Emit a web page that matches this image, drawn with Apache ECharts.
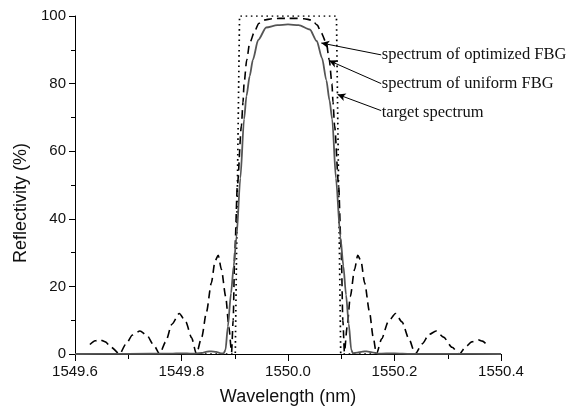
<!DOCTYPE html>
<html>
<head>
<meta charset="utf-8">
<script src="https://cdn.jsdelivr.net/npm/echarts@6/dist/echarts.min.js"></script>
<style>
  html, body { margin: 0; padding: 0; background: #fff; }
  #chart { width: 566px; height: 411px; }
</style>
</head>
<body>
<div id="chart"></div>
<script>
// Target (ideal rectangular) reflection spectrum
var targetWl = [1549.6, 1549.901, 1549.909, 1550.091, 1550.099, 1550.4];
var targetR  = [0, 0, 100, 100, 0, 0];

// Uniform FBG reflection spectrum (main lobe + side lobes)
var uniformWl = [
  1549.628, 1549.638, 1549.647, 1549.657, 1549.668, 1549.684, 1549.695, 1549.708,
  1549.722, 1549.735, 1549.748, 1549.759, 1549.770, 1549.782, 1549.796, 1549.808,
  1549.819, 1549.828, 1549.838, 1549.847, 1549.856, 1549.863, 1549.869, 1549.875,
  1549.883, 1549.889, 1549.894, 1549.897, 1549.900, 1549.905, 1549.9125, 1549.9155,
  1549.9175, 1549.9225, 1549.928, 1549.9375, 1549.945, 1549.955, 1549.970, 1549.985,
  1550.000, 1550.015, 1550.030, 1550.045, 1550.055, 1550.0625, 1550.072, 1550.0775,
  1550.0825, 1550.0845, 1550.0875, 1550.095, 1550.100, 1550.103, 1550.106, 1550.111,
  1550.117, 1550.125, 1550.131, 1550.137, 1550.144, 1550.153, 1550.160, 1550.166,
  1550.176, 1550.188, 1550.202, 1550.214, 1550.227, 1550.239, 1550.252, 1550.265,
  1550.278, 1550.292, 1550.308, 1550.322, 1550.333, 1550.345, 1550.357, 1550.365,
  1550.372
];
var uniformR = [
  2.8, 3.9, 4.2, 3.6, 2.0, 0.0, 2.8, 5.6,
  6.8, 5.5, 2.6, 0.0, 3.5, 8.8, 12.0, 9.5,
  4.8, 0.0, 5.0, 12.5, 21.0, 27.5, 29.2, 25.0,
  17.0, 8.0, 0.5, 10.0, 30.0, 50.0, 67.5, 74.5,
  80.0, 87.0, 92.0, 95.5, 97.8, 98.8, 99.2, 99.3,
  99.3, 99.3, 99.2, 98.8, 97.3, 95.0, 92.0, 87.0,
  80.0, 74.5, 67.5, 50.0, 30.0, 10.0, 0.5, 8.0,
  17.0, 25.0, 29.2, 27.5, 21.0, 12.5, 5.0, 0.0,
  4.5, 9.5, 12.0, 9.5, 4.5, 0.0, 3.0, 5.8,
  6.8, 5.0, 2.0, 0.0, 2.0, 3.6, 4.2, 3.8,
  3.0
];

// Optimized FBG reflection spectrum
var optimWl = [
  1549.600, 1549.700, 1549.780, 1549.800, 1549.820, 1549.838, 1549.848, 1549.856,
  1549.865, 1549.874, 1549.879, 1549.8826, 1549.887, 1549.893, 1549.898, 1549.9032,
  1549.9105, 1549.9175, 1549.922, 1549.928, 1549.934, 1549.944, 1549.959, 1549.980,
  1550.000, 1550.020, 1550.041, 1550.054, 1550.064, 1550.072, 1550.078, 1550.083,
  1550.090, 1550.0985, 1550.104, 1550.109, 1550.114, 1550.1188, 1550.122, 1550.130,
  1550.140, 1550.148, 1550.158, 1550.170, 1550.200, 1550.230, 1550.300, 1550.400
];
var optimR = [
  0.0, 0.05, 0.1, 0.2, 0.1, 0.3, 0.7, 0.8,
  0.6, 0.2, 0.2, 1.2, 8.0, 18.0, 26.0, 34.5,
  52.0, 69.5, 76.3, 82.2, 87.0, 92.9, 96.6, 97.3,
  97.5, 97.3, 96.0, 92.6, 87.5, 81.0, 75.0, 69.5,
  52.0, 34.5, 26.0, 17.5, 9.0, 1.2, 0.2, 0.4,
  0.7, 0.8, 0.5, 0.1, 0.2, 0.05, 0.05, 0.0
];

// Annotation texts, where they sit, and where their arrows point
var noteText  = ['spectrum of optimized FBG', 'spectrum of uniform FBG', 'target spectrum'];
var noteWl    = [1550.176, 1550.176, 1550.176];
var noteR     = [88.5, 80.0, 71.5];
var arrowFromWl = [1550.175, 1550.175, 1550.175];
var arrowFromR  = [88.5, 80.0, 72.0];
var arrowToWl   = [1550.0625, 1550.0772, 1550.0931];
var arrowToR    = [92.0, 86.8, 76.8];

function pairs(xs, ys) {
  return xs.map(function (x, i) { return [x, ys[i]]; });
}

var chart = echarts.init(document.getElementById('chart'), null, { renderer: 'canvas' });

var sansFont = 'Liberation Sans, Arial, sans-serif';
var serifFont = 'Liberation Serif, Times New Roman, serif';

var arrowLines = noteText.map(function (t, i) {
  return [
    { coord: [arrowFromWl[i], arrowFromR[i]] },
    { coord: [arrowToWl[i], arrowToR[i]] }
  ];
});

var option = {
  animation: false,
  backgroundColor: '#fff',
  grid: { left: 75, right: 65, top: 16, bottom: 54, containLabel: false },
  xAxis: {
    type: 'value',
    min: 1549.6,
    max: 1550.4,
    interval: 0.2,
    name: 'Wavelength (nm)',
    nameLocation: 'middle',
    nameGap: 34,
    nameTextStyle: { fontFamily: sansFont, fontSize: 18, color: '#111' },
    axisLine: { show: true, onZero: false, lineStyle: { color: '#000', width: 1 } },
    axisTick: { show: true, inside: false, length: 7, lineStyle: { color: '#000' } },
    minorTick: { show: true, splitNumber: 2, length: 5, lineStyle: { color: '#000' } },
    splitLine: { show: false },
    axisLabel: {
      margin: 10,
      fontFamily: sansFont, fontSize: 15, color: '#111',
      formatter: function (v) { return v.toFixed(1); }
    }
  },
  yAxis: {
    type: 'value',
    min: 0,
    max: 100,
    interval: 20,
    name: 'Reflectivity (%)',
    nameLocation: 'middle',
    nameGap: 44,
    nameTextStyle: { fontFamily: sansFont, fontSize: 18, color: '#111', padding: [0, 36, 0, 0] },
    axisLine: { show: true, lineStyle: { color: '#000', width: 1 } },
    axisTick: { show: true, inside: false, length: 6, lineStyle: { color: '#000' } },
    minorTick: { show: true, splitNumber: 2, length: 4, lineStyle: { color: '#000' } },
    splitLine: { show: false },
    axisLabel: { margin: 9, fontFamily: sansFont, fontSize: 15, color: '#111' }
  },
  series: [
    {
      name: 'target spectrum',
      type: 'line',
      data: pairs(targetWl, targetR),
      symbol: 'none',
      lineStyle: { color: '#000', width: 1.7, type: [1.6, 3.6] },
      z: 3,
      markLine: {
        silent: true,
        symbol: ['none', 'arrow'],
        symbolSize: [6, 8],
        label: { show: false },
        lineStyle: { color: '#000', width: 1, type: 'solid' },
        data: arrowLines
      }
    },
    {
      name: 'spectrum of uniform FBG',
      type: 'line',
      data: pairs(uniformWl, uniformR),
      symbol: 'none',
      smooth: 0.25,
      smoothMonotone: 'x',
      lineStyle: { color: '#000', width: 1.6, type: [8, 5] },
      z: 4
    },
    {
      name: 'spectrum of optimized FBG',
      type: 'line',
      data: pairs(optimWl, optimR),
      symbol: 'none',
      smooth: 0.25,
      smoothMonotone: 'x',
      lineStyle: { color: '#555', width: 1.8 },
      z: 5
    }
  ]
};

chart.setOption(option);

// Place annotation texts in data coordinates
var texts = noteText.map(function (t, i) {
  var p = chart.convertToPixel({ gridIndex: 0 }, [noteWl[i], noteR[i]]);
  return {
    type: 'text',
    x: p[0],
    y: p[1],
    style: {
      text: t,
      fontFamily: serifFont,
      fontSize: 16.5,
      fill: '#111',
      textAlign: 'left',
      textVerticalAlign: 'middle'
    },
    z: 10
  };
});
chart.setOption({ graphic: texts });
</script>
</body>
</html>
